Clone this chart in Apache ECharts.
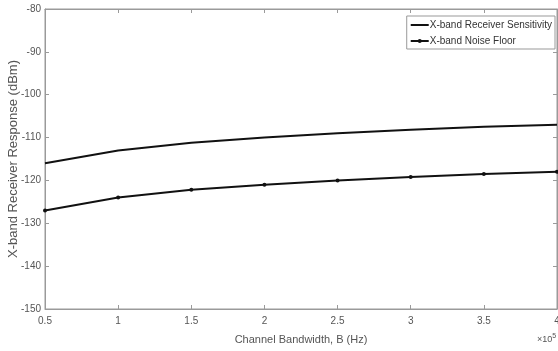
<!DOCTYPE html>
<html><head><meta charset="utf-8">
<script src="https://cdn.jsdelivr.net/npm/echarts@6/dist/echarts.min.js"></script>
<style>html,body{margin:0;padding:0;background:#fff}#c{width:558px;height:351px}</style>
</head><body><div id="c"></div>
<script>
const bandwidth = [0.5, 1, 1.5, 2, 2.5, 3, 3.5, 4];
const sensitivity = [-116, -113, -111.2, -110, -109, -108.2, -107.5, -107];
const noiseFloor = [-127, -124, -122.2, -121, -120, -119.2, -118.5, -118];
const seriesNames = ['X-band Receiver Sensitivity', 'X-band Noise Floor'];

const chart = echarts.init(document.getElementById('c'), null, {renderer: 'canvas'});
const font = 'Liberation Sans, Arial, sans-serif';
const axisCol = '#9a9a9a';
const textCol = '#555';
chart.setOption({
  animation: false,
  backgroundColor: '#fff',
  grid: {left: 45, right: 1, top: 9, bottom: 42, show: true, borderColor: axisCol, borderWidth: 1,
         containLabel: false, outerBoundsMode: 'none'},
  legend: {
    orient: 'vertical', right: 3, top: 16,
    data: [{name: seriesNames[0], itemStyle: {opacity: 0}}, {name: seriesNames[1]}],
    borderColor: '#999', borderWidth: 1, padding: [4, 3, 3, 3], itemGap: 6,
    itemWidth: 18, itemHeight: 5, backgroundColor: '#fff',
    textStyle: {fontFamily: font, fontSize: 10, color: '#333', padding: [0, 0, 0, -4]}
  },
  xAxis: [{
    type: 'value', min: 0.5, max: 4, interval: 0.5,
    name: 'Channel Bandwidth, B (Hz)', nameLocation: 'middle', nameGap: 25, nameMoveOverlap: false,
    nameTextStyle: {fontFamily: font, fontSize: 11, color: textCol},
    axisLine: {show: true, lineStyle: {color: axisCol}},
    axisTick: {show: true, inside: true, length: 4, lineStyle: {color: axisCol}},
    axisLabel: {fontFamily: font, fontSize: 10, color: textCol, margin: 7, showMaxLabel: true},
    splitLine: {show: false}
  }, {
    type: 'value', position: 'top', min: 0.5, max: 4, interval: 0.5,
    axisLine: {show: true, lineStyle: {color: axisCol}},
    axisTick: {show: true, inside: true, length: 4, lineStyle: {color: axisCol}},
    axisLabel: {show: false}, splitLine: {show: false}
  }],
  yAxis: [{
    type: 'value', min: -150, max: -80, interval: 10,
    name: 'X-band Receiver Response (dBm)', nameLocation: 'middle', nameGap: 25, nameMoveOverlap: false,
    nameTextStyle: {fontFamily: font, fontSize: 13, color: textCol},
    axisLine: {show: true, lineStyle: {color: axisCol}},
    axisTick: {show: true, inside: true, length: 4, lineStyle: {color: axisCol}},
    axisLabel: {fontFamily: font, fontSize: 10, color: textCol, margin: 4},
    splitLine: {show: false}
  }, {
    type: 'value', position: 'right', min: -150, max: -80, interval: 10,
    axisLine: {show: true, lineStyle: {color: axisCol}},
    axisTick: {show: true, inside: true, length: 4, lineStyle: {color: axisCol}},
    axisLabel: {show: false}, splitLine: {show: false}
  }],
  graphic: [{
    type: 'text', left: 537, top: 333,
    style: {
      text: '{a|×10}{b|5}',
      rich: {
        a: {fontFamily: font, fontSize: 9, fill: textCol},
        b: {fontFamily: font, fontSize: 7, fill: textCol, verticalAlign: 'top', padding: [0, 0, 6, 0]}
      }
    }
  }],
  series: [{
    name: seriesNames[0], type: 'line',
    data: bandwidth.map((b, i) => [b, sensitivity[i]]),
    showSymbol: false, symbol: 'none',
    lineStyle: {color: '#111', width: 2}, itemStyle: {color: '#111'}
  }, {
    name: seriesNames[1], type: 'line',
    data: bandwidth.map((b, i) => [b, noiseFloor[i]]),
    symbol: 'circle', symbolSize: 4, showSymbol: true,
    lineStyle: {color: '#111', width: 2}, itemStyle: {color: '#111'}
  }]
});
</script></body></html>
